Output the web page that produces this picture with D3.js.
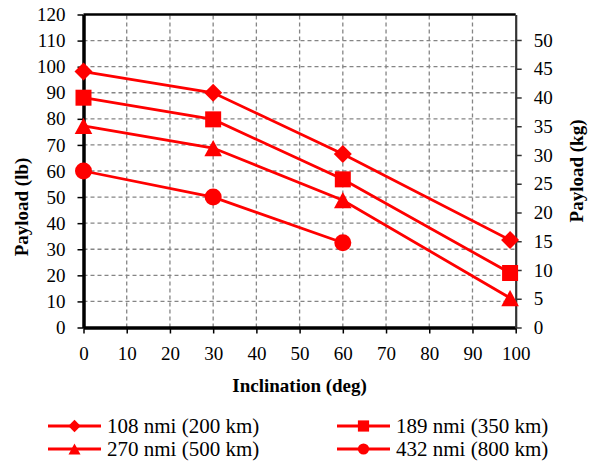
<!DOCTYPE html>
<html lang="en">
<head>
  <meta charset="utf-8" />
  <title>Payload vs inclination</title>
  <style>
    html, body { margin: 0; background: #fff; }
    svg { display: block; }
  </style>
  <script src="https://cdn.jsdelivr.net/npm/d3@7"></script>
</head>
<body>
<script>
// values (payload in lb)
const inclination = [0, 30, 60, 98.7];
const payload108 = [98.1, 90.0, 66.5, 33.5];
const payload189 = [88.1, 79.8, 56.8, 20.9];
const payload270 = [77.3, 68.8, 48.8, 11.3];
const payload432 = [60.0, 50.0, 32.5];          // no point at ~99 deg
const seriesNames = ["108 nmi (200 km)", "189 nmi (350 km)", "270 nmi (500 km)", "432 nmi (800 km)"];
const seriesSymbols = ["diamond", "square", "triangle", "circle"];
const xTicks = d3.range(0, 101, 10);
const yTicks = d3.range(0, 121, 10);
const kgTicks = d3.range(0, 51, 5);
const LB_PER_KG = 2.20462;

const series = [payload108, payload189, payload270, payload432].map((vals, i) => ({
  name: seriesNames[i],
  symbol: seriesSymbols[i],
  points: vals.map((v, j) => [inclination[j], v])
}));

const W = 595, H = 462;
const margin = { left: 83.5, right: 595 - 515.7, top: 14.5, bottom: 462 - 327.5 };
const RED = "#ff0000";
const FONT = '"Liberation Serif"';

const svg = d3.select("body").append("svg").attr("width", W).attr("height", H);

const x = d3.scaleLinear().domain([0, 100]).range([margin.left, W - margin.right]);
const y = d3.scaleLinear().domain([0, 120]).range([H - margin.bottom, margin.top]);
const yKg = d3.scaleLinear().domain([0, 120 / LB_PER_KG]).range([H - margin.bottom, margin.top]);

// gridlines
const grid = svg.append("g").attr("stroke", "#858585").attr("stroke-width", 1.3).attr("stroke-dasharray", "4,3");
grid.selectAll(".gx").data(xTicks.filter(d => d > 0 && d < 100)).join("line")
  .attr("x1", d => x(d)).attr("x2", d => x(d))
  .attr("y1", y(0)).attr("y2", y(120));
grid.selectAll(".gy").data(yTicks.filter(d => d > 0 && d < 120)).join("line")
  .attr("y1", d => y(d)).attr("y2", d => y(d))
  .attr("x1", x(0)).attr("x2", x(100));

// top border
svg.append("line").attr("x1", x(0)).attr("x2", x(100)).attr("y1", y(120)).attr("y2", y(120))
  .attr("stroke", "#000").attr("stroke-width", 2.5);

const tickFont = 19;

// left axis
const gl = svg.append("g").attr("transform", `translate(${x(0)},0)`)
  .call(d3.axisLeft(y).tickValues(yTicks).tickSize(6).tickPadding(12).tickSizeOuter(0));
// bottom axis
const gb = svg.append("g").attr("transform", `translate(0,${y(0)})`)
  .call(d3.axisBottom(x).tickValues(xTicks).tickSize(6).tickPadding(13).tickSizeOuter(0));
// right axis (kg)
const gr = svg.append("g").attr("transform", `translate(${x(100)},0)`)
  .call(d3.axisRight(yKg).tickValues(kgTicks).tickSize(6).tickPadding(12).tickSizeOuter(0));

[gl, gb, gr].forEach(g => {
  g.attr("font-family", null).attr("font-size", null);
  g.selectAll("text").style("font-family", FONT).style("font-size", tickFont + "px").attr("fill", "#000");
  g.selectAll(".tick line").attr("stroke", "#000").attr("stroke-width", 1.5);
});
gl.select(".domain").attr("stroke", "#000").attr("stroke-width", 3.5);
gb.select(".domain").attr("stroke", "#000").attr("stroke-width", 3.5);
gr.select(".domain").attr("stroke", "#333").attr("stroke-width", 2.2);
gr.selectAll(".tick line").attr("stroke", "#333");

// axis titles
function title(sel) {
  return sel.attr("text-anchor", "middle").style("font-family", FONT)
    .style("font-weight", "bold").style("font-size", "19px");
}
title(svg.append("text").attr("x", (x(0) + x(100)) / 2).attr("y", 392))
  .text("Inclination (deg)");
title(svg.append("text").attr("transform", `translate(28,207) rotate(-90)`))
  .text("Payload (lb)");
title(svg.append("text").attr("transform", `translate(583,171) rotate(-90)`))
  .text("Payload (kg)");

// marker shapes, r = half width
function markerPath(kind, r) {
  const p = d3.path();
  if (kind === "diamond") {
    p.moveTo(0, -r); p.lineTo(r, 0); p.lineTo(0, r); p.lineTo(-r, 0); p.closePath();
  } else if (kind === "square") {
    p.rect(-r, -r, 2 * r, 2 * r);
  } else if (kind === "triangle") {
    const h = r * 1.85;
    p.moveTo(0, -h / 2); p.lineTo(r, h / 2); p.lineTo(-r, h / 2); p.closePath();
  } else {
    p.arc(0, 0, r, 0, 2 * Math.PI);
  }
  return p.toString();
}
function marker(sel, kind, r) {
  sel.append("path").attr("d", markerPath(kind, r)).attr("fill", RED);
}

const line = d3.line().x(d => x(d[0])).y(d => y(d[1]));
const plot = svg.append("g");
series.forEach(s => {
  plot.append("path").attr("d", line(s.points)).attr("fill", "none")
    .attr("stroke", RED).attr("stroke-width", 2.8);
});
const bigR = { diamond: 9, square: 8, triangle: 8.8, circle: 8.5 };
series.forEach(s => {
  s.points.forEach(p => {
    const g = plot.append("g").attr("transform", `translate(${x(p[0])},${y(p[1])})`);
    marker(g, s.symbol, bigR[s.symbol]);
  });
});

// legend
const smallR = { diamond: 6.2, square: 5.6, triangle: 6, circle: 5.6 };
const legendPos = [[48, 426], [337, 426], [48, 449], [337, 449]];
series.forEach((s, i) => {
  const [lx, ly] = legendPos[i];
  const g = svg.append("g").attr("transform", `translate(${lx},${ly})`);
  g.append("line").attr("x1", 0).attr("x2", 53).attr("stroke", RED).attr("stroke-width", 2.8);
  const m = g.append("g").attr("transform", "translate(26.5,0)");
  marker(m, s.symbol, smallR[s.symbol]);
  g.append("text").attr("x", 59).attr("y", 0).attr("dy", "0.35em")
    .style("font-family", FONT).style("font-size", "21px").text(s.name);
});
</script>
</body>
</html>
